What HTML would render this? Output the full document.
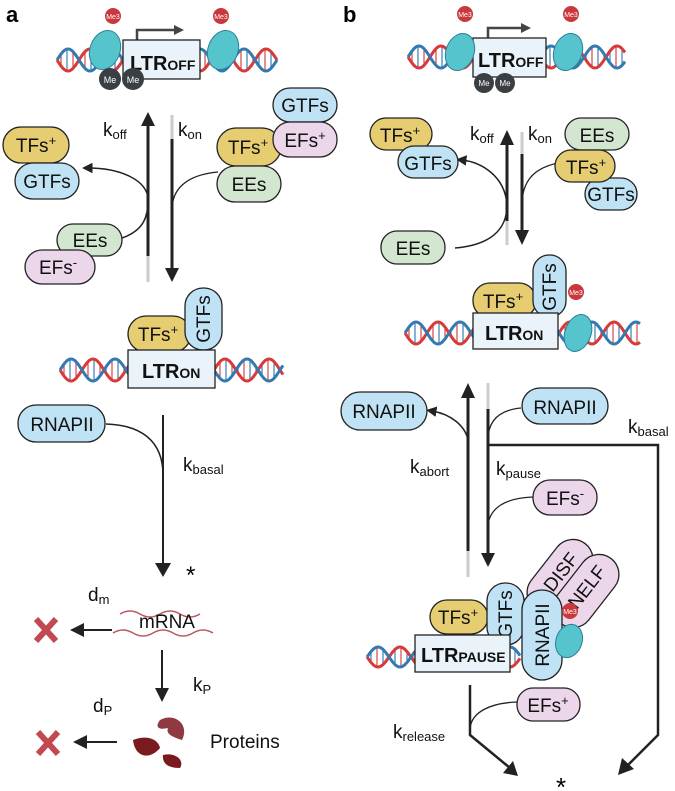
<!DOCTYPE html>
<html><head><meta charset="utf-8"><style>
html,body{margin:0;padding:0;background:#fff}
svg{display:block;font-family:"Liberation Sans",sans-serif}
.p{stroke:#222;stroke-width:1.3}
.y{fill:#e6cd72}.b{fill:#bfe2f4}.k{fill:#ecd6ea}.g{fill:#d2e6d0}
.t{font-size:19px;fill:#111;text-anchor:middle}
.l{font-size:19px;fill:#111}
.s{font-size:13px}
.bx{fill:#e9f3f9;stroke:#222;stroke-width:1.3}
.bt{font-size:20px;font-weight:bold;fill:#111}
.a{stroke:#222;fill:none}
</style></head><body>
<svg id="s" width="675" height="791" viewBox="0 0 675 791" xmlns="http://www.w3.org/2000/svg">
<defs>
<marker id="hs" markerWidth="7" markerHeight="7" refX="3" refY="3.5" orient="auto" markerUnits="strokeWidth"><path d="M0,0 L7,3.5 L0,7 z" fill="#222"/></marker>
</defs>
<g id="dna"></g>

<!-- ===== Panel a ===== -->
<text x="6" y="22" font-size="22" font-weight="bold">a</text>
<path d="M137,40 V30 H175" stroke="#444" stroke-width="2.5" fill="none"/>
<path d="M174,25 L184,30 L174,35z" fill="#444"/>
<rect x="123" y="40" width="77" height="39" class="bx"/>
<text x="130" y="70" class="bt">LTR<tspan font-size="14">OFF</tspan></text>
<g fill="#55c4cc" stroke="#2a7f9a"><ellipse cx="105" cy="50" rx="15" ry="20" transform="rotate(20 105 50)"/><ellipse cx="223" cy="50" rx="15" ry="20" transform="rotate(20 223 50)"/></g>
<circle cx="113" cy="16" r="8" fill="#c9383d"/><text x="113" y="19" font-size="7" fill="#fff" text-anchor="middle">Me3</text>
<circle cx="221" cy="16" r="8" fill="#c9383d"/><text x="221" y="19" font-size="7" fill="#fff" text-anchor="middle">Me3</text>
<circle cx="110" cy="79" r="11" fill="#3a3f44"/><text x="110" y="83" font-size="9" fill="#fff" text-anchor="middle">Me</text>
<circle cx="133" cy="79" r="11" fill="#3a3f44"/><text x="133" y="83" font-size="9" fill="#fff" text-anchor="middle">Me</text>

<path d="M148,282 V255" stroke="#ccc" stroke-width="3"/><path d="M148,256 V124" stroke="#222" stroke-width="3"/><path d="M141,126 L148,112 L155,126z" fill="#222"/>
<path d="M172,115 V140" stroke="#ccc" stroke-width="3"/><path d="M172,139 V270" stroke="#222" stroke-width="3"/><path d="M165,268 L172,282 L179,268z" fill="#222"/>
<text x="103" y="136" class="l">k<tspan class="s" dy="3">off</tspan></text>
<text x="178" y="136" class="l">k<tspan class="s" dy="3">on</tspan></text>
<path d="M122,238 C145,230 148,215 148,200 C148,180 120,168 88,168" class="a" stroke-width="1.5" marker-end="url(#hs)"/>
<path d="M218,172 C185,175 172,190 172,210" class="a" stroke-width="1.3"/>

<rect x="3" y="127" width="66" height="36" rx="18" class="p y"/><text x="36" y="152" class="t">TFs<tspan class="s" dy="-7">+</tspan></text>
<rect x="15" y="163" width="64" height="36" rx="18" class="p b"/><text x="47" y="188" class="t">GTFs</text>
<rect x="57" y="224" width="65" height="32" rx="16" class="p g"/><text x="90" y="247" class="t">EEs</text>
<rect x="25" y="250" width="70" height="34" rx="17" class="p k"/><text x="58" y="274" class="t">EFs<tspan class="s" dy="-7">-</tspan></text>
<rect x="273" y="88" width="64" height="34" rx="17" class="p b"/><text x="305" y="112" class="t">GTFs</text>
<rect x="217" y="128" width="64" height="38" rx="19" class="p y"/><text x="248" y="154" class="t">TFs<tspan class="s" dy="-7">+</tspan></text>
<rect x="273" y="122" width="64" height="35" rx="17" class="p k"/><text x="305" y="147" class="t">EFs<tspan class="s" dy="-7">+</tspan></text>
<rect x="217" y="166" width="64" height="36" rx="18" class="p g"/><text x="249" y="191" class="t">EEs</text>

<rect x="128" y="316" width="63" height="36" rx="18" class="p y"/><text x="158" y="341" class="t">TFs<tspan class="s" dy="-7">+</tspan></text>
<rect x="185" y="288" width="37" height="62" rx="18" class="p b"/><text transform="translate(210 319) rotate(-90)" class="t">GTFs</text>
<rect x="128" y="350" width="87" height="38" class="bx"/><text x="142" y="378" class="bt">LTR<tspan font-size="14">ON</tspan></text>

<rect x="18" y="405" width="87" height="37" rx="18" class="p b"/><text x="62" y="431" class="t">RNAPII</text>
<path d="M106,424 C140,425 163,440 163,475" class="a" stroke-width="1.5"/>
<path d="M163,415 V565" stroke="#222" stroke-width="2" fill="none"/><path d="M155,563 L163,577 L171,563z" fill="#222"/>
<text x="183" y="471" class="l">k<tspan class="s" dy="3">basal</tspan></text>
<text x="186" y="583" font-size="24">*</text>

<text x="88" y="601" class="l">d<tspan class="s" dy="3">m</tspan></text>
<path d="M120,614 q10,-6 20,0 t20,0 t20,0 t20,0" stroke="#b85a5f" stroke-width="1.5" fill="none"/>
<path d="M113,633 q10,-6 20,0 t20,0 t20,0 t20,0 t20,0" stroke="#b85a5f" stroke-width="1.5" fill="none"/>
<text x="167" y="628" class="t" font-size="20">mRNA</text>
<path d="M112,630 H82" stroke="#222" stroke-width="2"/><path d="M84,623 L70,630 L84,637z" fill="#222"/>
<g stroke="#c04a4f" stroke-width="6"><path d="M36,619 L56,641 M56,619 L36,641"/></g>
<path d="M162,650 V690" stroke="#222" stroke-width="2"/><path d="M155,688 L162,702 L169,688z" fill="#222"/>
<text x="193" y="691" class="l">k<tspan class="s" dy="3">P</tspan></text>
<text x="93" y="712" class="l">d<tspan class="s" dy="3">P</tspan></text>
<path d="M160,720 C175,712 190,725 182,740 C176,738 165,735 168,728 C160,730 154,728 160,720z" fill="#8e3a40"/>
<path d="M133,740 C145,735 158,738 160,748 C150,760 135,758 133,740z" fill="#7a1a1e"/>
<path d="M163,755 C175,752 185,760 180,768 C170,768 162,765 163,755z" fill="#7a1a1e"/>
<text x="210" y="748" class="l" font-size="20">Proteins</text>
<path d="M117,742 H85" stroke="#222" stroke-width="2"/><path d="M87,735 L73,742 L87,749z" fill="#222"/>
<g stroke="#c04a4f" stroke-width="6"><path d="M38,732 L58,754 M58,732 L38,754"/></g>

<!-- ===== Panel b ===== -->
<text x="343" y="22" font-size="22" font-weight="bold">b</text>
<path d="M488,38 V28 H522" stroke="#444" stroke-width="2.5" fill="none"/>
<path d="M521,23 L531,28 L521,33z" fill="#444"/>
<rect x="473" y="38" width="73" height="39" class="bx"/>
<text x="478" y="67" class="bt">LTR<tspan font-size="14">OFF</tspan></text>
<g fill="#55c4cc" stroke="#2a7f9a"><ellipse cx="460" cy="52" rx="14" ry="19" transform="rotate(20 460 52)"/><ellipse cx="568" cy="52" rx="14" ry="19" transform="rotate(20 568 52)"/></g>
<circle cx="465" cy="14" r="8" fill="#c9383d"/><text x="465" y="17" font-size="7" fill="#fff" text-anchor="middle">Me3</text>
<circle cx="571" cy="14" r="8" fill="#c9383d"/><text x="571" y="17" font-size="7" fill="#fff" text-anchor="middle">Me3</text>
<circle cx="484" cy="83" r="10" fill="#3a3f44"/><text x="484" y="86" font-size="8" fill="#fff" text-anchor="middle">Me</text>
<circle cx="505" cy="83" r="10" fill="#3a3f44"/><text x="505" y="86" font-size="8" fill="#fff" text-anchor="middle">Me</text>

<path d="M507,245 V220" stroke="#ccc" stroke-width="3"/><path d="M507,221 V143" stroke="#222" stroke-width="3"/><path d="M500,145 L507,130 L514,145z" fill="#222"/>
<path d="M522,132 V155" stroke="#ccc" stroke-width="3"/><path d="M522,154 V232" stroke="#222" stroke-width="3"/><path d="M515,230 L522,245 L529,230z" fill="#222"/>
<text x="470" y="140" class="l">k<tspan class="s" dy="3">off</tspan></text>
<text x="528" y="140" class="l">k<tspan class="s" dy="3">on</tspan></text>
<path d="M455,248 C490,245 507,230 507,205 C505,175 480,162 462,160" class="a" stroke-width="1.5" marker-end="url(#hs)"/>
<path d="M578,160 C540,163 522,175 522,205" class="a" stroke-width="1.3"/>

<rect x="370" y="118" width="62" height="32" rx="16" class="p y"/><text x="400" y="142" class="t">TFs<tspan class="s" dy="-7">+</tspan></text>
<rect x="398" y="146" width="60" height="32" rx="16" class="p b"/><text x="428" y="170" class="t">GTFs</text>
<rect x="381" y="231" width="64" height="33" rx="16" class="p g"/><text x="413" y="255" class="t">EEs</text>
<rect x="565" y="118" width="64" height="32" rx="16" class="p g"/><text x="597" y="142" class="t">EEs</text>
<rect x="585" y="178" width="52" height="32" rx="16" class="p b"/><text x="611" y="201" class="t" font-size="18">GTFs</text>
<rect x="585" y="150" width="60" height="32" rx="16" transform="translate(-30 0)" class="p y"/><text x="586" y="174" class="t">TFs<tspan class="s" dy="-7">+</tspan></text>

<rect x="473" y="283" width="63" height="35" rx="17" class="p y"/><text x="503" y="308" class="t">TFs<tspan class="s" dy="-7">+</tspan></text>
<rect x="533" y="255" width="33" height="62" rx="16" class="p b"/><text transform="translate(556 287) rotate(-90)" class="t" font-size="18">GTFs</text>
<circle cx="576" cy="292" r="8" fill="#c9383d"/><text x="576" y="295" font-size="7" fill="#fff" text-anchor="middle">Me3</text>
<rect x="473" y="313" width="85" height="36" class="bx"/><text x="485" y="340" class="bt">LTR<tspan font-size="14">ON</tspan></text>
<g fill="#55c4cc" stroke="#2a7f9a"><ellipse cx="578" cy="333" rx="13" ry="19" transform="rotate(20 578 333)"/></g>

<!-- pause section -->
<path d="M468,577 V550" stroke="#ccc" stroke-width="3"/><path d="M468,551 V398" stroke="#222" stroke-width="3"/><path d="M461,398 L468,383 L475,398z" fill="#222"/>
<path d="M488,383 V410" stroke="#ccc" stroke-width="3"/><path d="M488,409 V555" stroke="#222" stroke-width="3"/><path d="M481,553 L488,567 L495,553z" fill="#222"/>
<rect x="341" y="392" width="86" height="38" rx="19" class="p b"/><text x="384" y="418" class="t">RNAPII</text>
<rect x="522" y="388" width="86" height="36" rx="18" class="p b"/><text x="565" y="414" class="t">RNAPII</text>
<path d="M468,440 C465,425 450,414 432,411" class="a" stroke-width="1.5" marker-end="url(#hs)"/>
<path d="M521,408 C500,410 488,420 488,440" class="a" stroke-width="1.3"/>
<path d="M488,445 H658 V735 L628,765" class="a" stroke-width="2.5"/><path d="M622,758 L618,775 L634,769z" fill="#222"/>
<text x="628" y="433" class="l">k<tspan class="s" dy="3">basal</tspan></text>
<text x="410" y="473" class="l">k<tspan class="s" dy="3">abort</tspan></text>
<text x="496" y="475" class="l">k<tspan class="s" dy="3">pause</tspan></text>
<rect x="533" y="480" width="64" height="35" rx="17" class="p k"/><text x="565" y="505" class="t">EFs<tspan class="s" dy="-7">-</tspan></text>
<path d="M533,497 C505,498 490,508 488,525" class="a" stroke-width="1.3"/>

<rect x="540" y="535" width="40" height="82" rx="20" transform="rotate(38 560 576)" class="p k"/><text transform="translate(566 576) rotate(-52)" class="t">DISF</text>
<rect x="566" y="550" width="40" height="82" rx="20" transform="rotate(38 586 591)" class="p k"/><text transform="translate(592 591) rotate(-52)" class="t">NELF</text>
<rect x="430" y="600" width="58" height="34" rx="17" class="p y"/><text x="458" y="624" class="t">TFs<tspan class="s" dy="-7">+</tspan></text>
<rect x="487" y="583" width="37" height="62" rx="18" class="p b"/><text transform="translate(512 614) rotate(-90)" class="t">GTFs</text>
<rect x="522" y="590" width="40" height="90" rx="20" class="p b"/><text transform="translate(549 635) rotate(-90)" class="t">RNAPII</text>
<circle cx="570" cy="611" r="8" fill="#c9383d"/><text x="570" y="614" font-size="7" fill="#fff" text-anchor="middle">Me3</text>
<g fill="#55c4cc" stroke="#2a7f9a"><ellipse cx="569" cy="641" rx="13" ry="17" transform="rotate(20 569 641)"/></g>
<rect x="415" y="635" width="95" height="37" class="bx"/><text x="421" y="662" class="bt">LTR<tspan font-size="14">PAUSE</tspan></text>

<path d="M470,685 V735 L510,768" class="a" stroke-width="2.5"/><path d="M503,773 L518,776 L513,761z" fill="#222"/>
<rect x="517" y="688" width="63" height="33" rx="16" class="p k"/><text x="548" y="712" class="t">EFs<tspan class="s" dy="-7">+</tspan></text>
<path d="M517,702 C490,703 472,712 470,728" class="a" stroke-width="1.3"/>
<text x="393" y="738" class="l">k<tspan class="s" dy="3">release</tspan></text>
<text x="556" y="796" font-size="26">*</text>
</svg>
<script>
(function(){
var g=document.getElementById('dna');
function dna(x0,x1,y,a){
 var p1='',p2='',n=Math.ceil((x1-x0)),i;
 for(i=0;i<=n;i++){var x=x0+i,ph=(x-x0)/22*Math.PI;
  p1+=(i?'L':'M')+x+','+(y+a*Math.sin(ph)).toFixed(1);
  p2+=(i?'L':'M')+x+','+(y-a*Math.sin(ph)).toFixed(1);}
 var ns='http://www.w3.org/2000/svg';
 for(i=x0+4;i<x1;i+=6){var r=document.createElementNS(ns,'line');
  var ph=(i-x0)/22*Math.PI;r.setAttribute('x1',i);r.setAttribute('x2',i);
  r.setAttribute('y1',y+a*Math.sin(ph));r.setAttribute('y2',y-a*Math.sin(ph));
  r.setAttribute('stroke',i%12<6?'#d64545':'#3a7fb5');r.setAttribute('stroke-width','1.2');g.appendChild(r);}
 [[p1,'#d83a3a'],[p2,'#3579b1']].forEach(function(q){var e=document.createElementNS(ns,'path');
  e.setAttribute('d',q[0]);e.setAttribute('stroke',q[1]);e.setAttribute('stroke-width','3');e.setAttribute('fill','none');g.appendChild(e);});
}
dna(57,277,60,11);dna(60,283,370,11);dna(408,625,57,11);dna(405,640,333,11);dna(367,520,657,10);
})();
</script>
</body></html>
